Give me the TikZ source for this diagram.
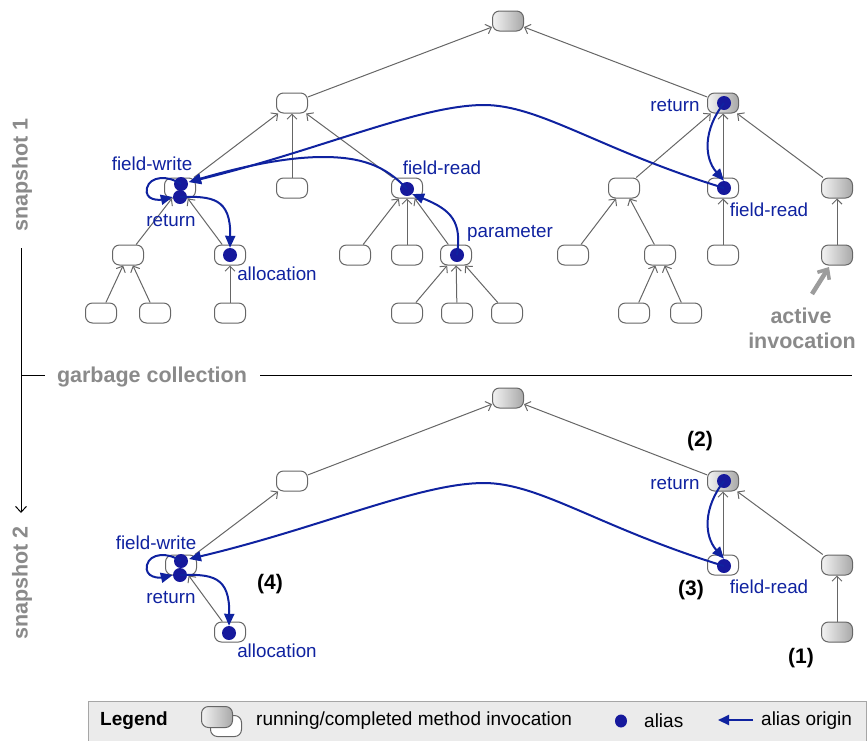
\documentclass[tikz,border=0pt]{standalone}
\usepackage{fontspec}
\setmainfont{Liberation Sans}
\usetikzlibrary{arrows.meta,shapes.geometric}
\definecolor{edgegray}{HTML}{666666}
\definecolor{dotblue}{HTML}{16199C}
\definecolor{lineblue}{HTML}{0F22A0}
\definecolor{txtgray}{HTML}{8A8A8A}
\definecolor{legbg}{HTML}{EBEBEB}
\tikzset{
  inv/.style={draw=edgegray, line width=1pt, rounded corners=7pt, minimum width=31pt, minimum height=20pt, inner sep=0pt, fill=white},
  ginv/.style={inv, left color=gray!10, right color=gray!68},
  dep/.style={draw=edgegray, line width=1pt, -{Straight Barb[length=5pt,width=10pt]}},
  adot/.style={circle, fill=dotblue, inner sep=0pt, minimum size=14pt},
  alias/.style={draw=lineblue, line width=2pt, -{Triangle[length=12pt,width=10pt]}},
  lbl/.style={text=lineblue, font=\fontsize{18.8}{20}\selectfont, inner sep=0pt},
  num/.style={font=\fontsize{21}{22}\selectfont\bfseries, inner sep=0pt},
  gtxt/.style={text=txtgray, font=\fontsize{21.5}{23}\selectfont\bfseries, inner sep=0pt},
}
\begin{document}
\begin{tikzpicture}[x=1pt,y=-1pt]
\useasboundingbox (0,0) rectangle (867,740);
% ---------------- snapshot 1 ----------------
\node[ginv] (r1) at (508,21) {};
\node[inv] (a1) at (292,103) {};
\node[ginv] (b1) at (723,103) {};
\node[inv] (fw1) at (180,188) {};
\node[inv] (m1) at (292,188) {};
\node[inv] (fr1) at (407,188) {};
\node[inv] (c1) at (624,188) {};
\node[inv] (frb1) at (723,188) {};
\node[ginv] (g1) at (837,188) {};
\node[inv] (d1) at (128,255) {};
\node[inv] (al1) at (230,255) {};
\node[inv] (e1) at (355,255) {};
\node[inv] (f1) at (407,255) {};
\node[inv] (pa1) at (456,255) {};
\node[inv] (h1) at (573,255) {};
\node[inv] (i1) at (660,255) {};
\node[inv] (j1) at (723,255) {};
\node[ginv] (g2) at (837,255) {};
\node[inv] (k1) at (101,313) {};
\node[inv] (k2) at (155,313) {};
\node[inv] (k3) at (230,313) {};
\node[inv] (k4) at (407,313) {};
\node[inv] (k5) at (457,313) {};
\node[inv] (k6) at (507,313) {};
\node[inv] (k7) at (634,313) {};
\node[inv] (k8) at (686,313) {};
\foreach \c/\p in {a1/r1,b1/r1,fw1/a1,m1/a1,fr1/a1,c1/b1,frb1/b1,g1/b1,d1/fw1,al1/fw1,e1/fr1,f1/fr1,pa1/fr1,h1/c1,i1/c1,j1/frb1,g2/g1,k1/d1,k2/d1,k3/al1,k4/pa1,k5/pa1,k6/pa1,k7/i1,k8/i1}
  \draw[dep] (\c) -- (\p);
% dots
\node[adot] (fwt1) at (181,184) {};
\node[adot] (fwb1) at (180,197) {};
\node[adot] (ald1) at (230,255) {};
\node[adot] (frd1) at (407,189) {};
\node[adot] (pad1) at (457,255) {};
\node[adot] (bd1) at (724,103) {};
\node[adot] (frbd1) at (724,188) {};
\coordinate (tipa1) at (189,182);
% alias arrows
\draw[alias] (frbd1.center) .. controls (600,150) and (540,105) .. (484,105) .. controls (420,105) and (320,150) .. (tipa1);
\draw[alias] (frd1.center) .. controls (385,165) and (360,157) .. (323,157) .. controls (280,157) and (230,170) .. (tipa1);
\draw[alias] (fwt1.center) .. controls (168,175) and (150,176) .. (147,188) .. controls (144,201) and (160,200) .. (fwb1.west);
\draw[alias] (fwb1.center) .. controls (212,196) and (231,198) .. (ald1.north);
\draw[alias] (pad1.center) .. controls (462,222) and (452,210) .. (frd1.south east);
\draw[alias] (bd1.center) .. controls (703,130) and (704,158) .. (frbd1.north);
% labels
\node[lbl] (l1) at (152,164) {field-write};
\node[lbl] (l2) at (171,221) {return};
\node[lbl] (l3) at (277,274) {allocation};
\node[lbl] (l4) at (442,168) {field-read};
\node[lbl] (l5) at (510,233) {parameter};
\node[lbl] (l6) at (675,106) {return};
\node[lbl] (l7) at (769,210) {field-read};
% active invocation
\node[gtxt] (act) at (801,316) {active};
\node[gtxt] (acti) at (802,341) {invocation};
\coordinate (acts) at (812,294);
\coordinate (acte) at (829,267);
\draw[draw=txtgray!85, line width=4.5pt, -{Straight Barb[length=8pt,width=14pt,line width=3.5pt]}] (acts) -- (acte);
% ---------------- axis ----------------
\node[gtxt, rotate=90] (s1) at (22,175) {snapshot 1};
\node[gtxt, rotate=90] (s2) at (22,583) {snapshot 2};
\node[gtxt] (gc) at (152,377) {garbage collection};
\coordinate (ax0) at (21,248);
\coordinate (ax1) at (21,513);
\coordinate (tk0) at (21,375);
\coordinate (tk1) at (45,375);
\coordinate (gl0) at (260,375);
\coordinate (gl1) at (852,375);
\draw[line width=1pt, -{Straight Barb[length=6pt,width=11pt]}] (ax0) -- (ax1);
\draw[line width=1pt] (tk0) -- (tk1);
\draw[line width=1pt] (gl0) -- (gl1);
% ---------------- snapshot 2 ----------------
\node[ginv] (r2) at (508,398) {};
\node[inv] (a2) at (292,481) {};
\node[ginv] (b2) at (723,481) {};
\node[inv] (fw2) at (181,565) {};
\node[inv] (al2) at (230,632) {};
\node[inv] (frb2) at (723,565) {};
\node[ginv] (gg2) at (837,565) {};
\node[ginv] (gg3) at (837,632) {};
\foreach \c/\p in {a2/r2,b2/r2,fw2/a2,al2/fw2,frb2/b2,gg2/b2,gg3/gg2}
  \draw[dep] (\c) -- (\p);
\node[adot] (fwt2) at (181,561) {};
\node[adot] (fwb2) at (180,575) {};
\node[adot] (ald2) at (229,633) {};
\node[adot] (bd2) at (724,481) {};
\node[adot] (frbd2) at (724,566) {};
\coordinate (tipa2) at (189,559);
\draw[alias] (frbd2.center) .. controls (600,528) and (540,483) .. (484,483) .. controls (420,483) and (320,528) .. (tipa2);
\draw[alias] (fwt2.center) .. controls (168,552) and (150,553) .. (147,565) .. controls (144,578) and (160,578) .. (fwb2.west);
\draw[alias] (fwb2.center) .. controls (212,574) and (230,576) .. (ald2.north);
\draw[alias] (bd2.center) .. controls (703,508) and (704,536) .. (frbd2.north);
\node[lbl] (m1l) at (156,543) {field-write};
\node[lbl] (m2l) at (171,598) {return};
\node[lbl] (m3l) at (277,651) {allocation};
\node[lbl] (m4l) at (675,484) {return};
\node[lbl] (m5l) at (769,587) {field-read};
\node[num] (n1) at (801,658) {(1)};
\node[num] (n2) at (700,441) {(2)};
\node[num] (n3) at (691,590) {(3)};
\node[num] (n4) at (270,584) {(4)};
% ---------------- legend ----------------
\node[draw=gray!70, fill=legbg, line width=0.8pt, minimum width=778pt, minimum height=46pt, inner sep=0pt] (leg) at (477,724) {};
\node[font=\fontsize{19}{20}\selectfont\bfseries, inner sep=0pt] (legt) at (134,721) {Legend};
\node[inv, minimum width=31pt, minimum height=21pt] (lic2) at (226,726) {};
\node[ginv, minimum width=31pt, minimum height=21pt] (lic1) at (217,717) {};
\node[font=\fontsize{19}{20}\selectfont, inner sep=0pt, anchor=west] (legr) at (256,721) {running/completed method invocation};
\node[ellipse, fill=dotblue, inner sep=0pt, minimum width=12pt, minimum height=13pt] (ldot) at (621,721) {};
\node[font=\fontsize{19}{20}\selectfont, inner sep=0pt, anchor=west] (lal) at (644,721) {alias};
\coordinate (la0) at (753,720);
\coordinate (la1) at (718,720);
\draw[draw=lineblue, line width=2pt, -{Triangle[length=11pt,width=10pt]}] (la0) -- (la1);
\node[font=\fontsize{19}{20}\selectfont, inner sep=0pt, anchor=west] (lao) at (761,721) {alias origin};
\end{tikzpicture}
\end{document}
